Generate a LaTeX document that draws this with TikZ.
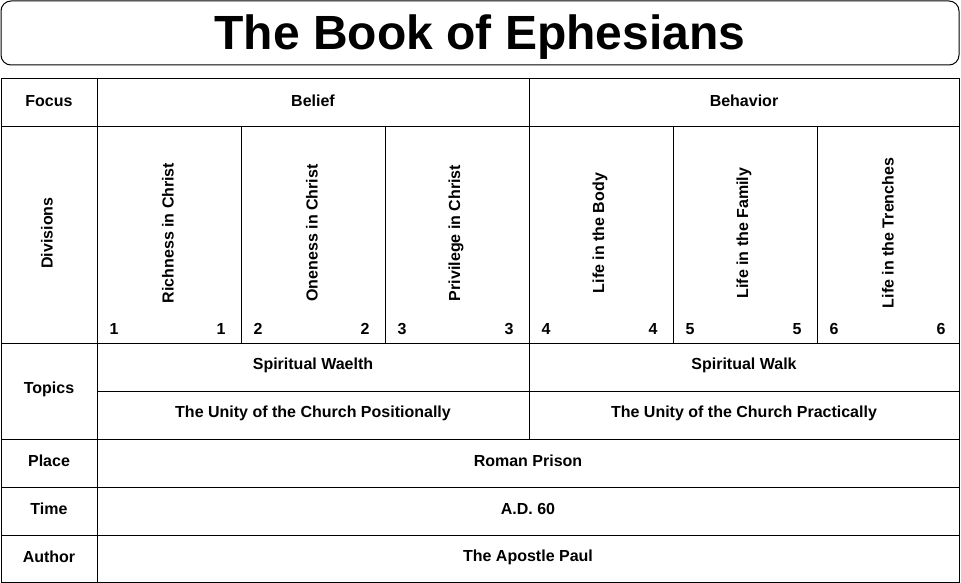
\documentclass[tikz,border=0pt]{standalone}
\usepackage{fontspec}
\setmainfont{Liberation Sans}
\begin{document}
\begin{tikzpicture}[x=1pt,y=-1pt,line width=1pt,
  txt/.style={font=\bfseries\fontsize{16}{18}\selectfont},
  vtxt/.style={txt,rotate=90}]
  \useasboundingbox (0,0) rectangle (961,583);
  \draw[rounded corners=10pt] (1,1) rectangle (959,65);
  \node[font=\bfseries\fontsize{48}{54}\selectfont] (title) at (480,37) {The Book of Ephesians};
  % table grid
  \draw (1,79) rectangle (959,582);
  \foreach \y in {127,343,439,487,535} \draw (1,\y) -- (959,\y);
  \draw (97,391) -- (959,391);
  \draw (97,79) -- (97,582);
  \draw (529,79) -- (529,439);
  \foreach \x in {241,385,673,817} \draw (\x,127) -- (\x,343);
  % row labels
  \node[txt] (focus) at (49,101) {Focus};
  \node[vtxt] (div) at (47,233) {Divisions};
  \node[txt] (topics) at (49,389) {Topics};
  \node[txt] (place) at (49,461) {Place};
  \node[txt] (time) at (49,509) {Time};
  \node[txt] (author) at (49,557) {Author};
  % content
  \node[txt] (belief) at (313,101) {Belief};
  \node[txt] (behav) at (744,101) {Behavior};
  \foreach \n/\t [count=\i] in {169/Richness in Christ,313/Oneness in Christ,457/Privilege in Christ,601/Life in the Body,745/Life in the Family,889/Life in the Trenches}{
    \node[vtxt] (d\i) at (\n-1,233) {\t};
    \node[txt] (l\i) at (\n-55,329) {\i};
    \node[txt] (r\i) at (\n+52,329) {\i};
  }
  \node[txt] (wealth) at (313,365) {Spiritual Waelth};
  \node[txt] (walk) at (744,365) {Spiritual Walk};
  \node[txt] (pos) at (313,413) {The Unity of the Church Positionally};
  \node[txt] (prac) at (744,413) {The Unity of the Church Practically};
  \node[txt] (prison) at (528,461) {Roman Prison};
  \node[txt] (ad) at (528,509) {A.D. 60};
  \node[txt] (paul) at (528,557) {The Apostle Paul};
\end{tikzpicture}
\end{document}
